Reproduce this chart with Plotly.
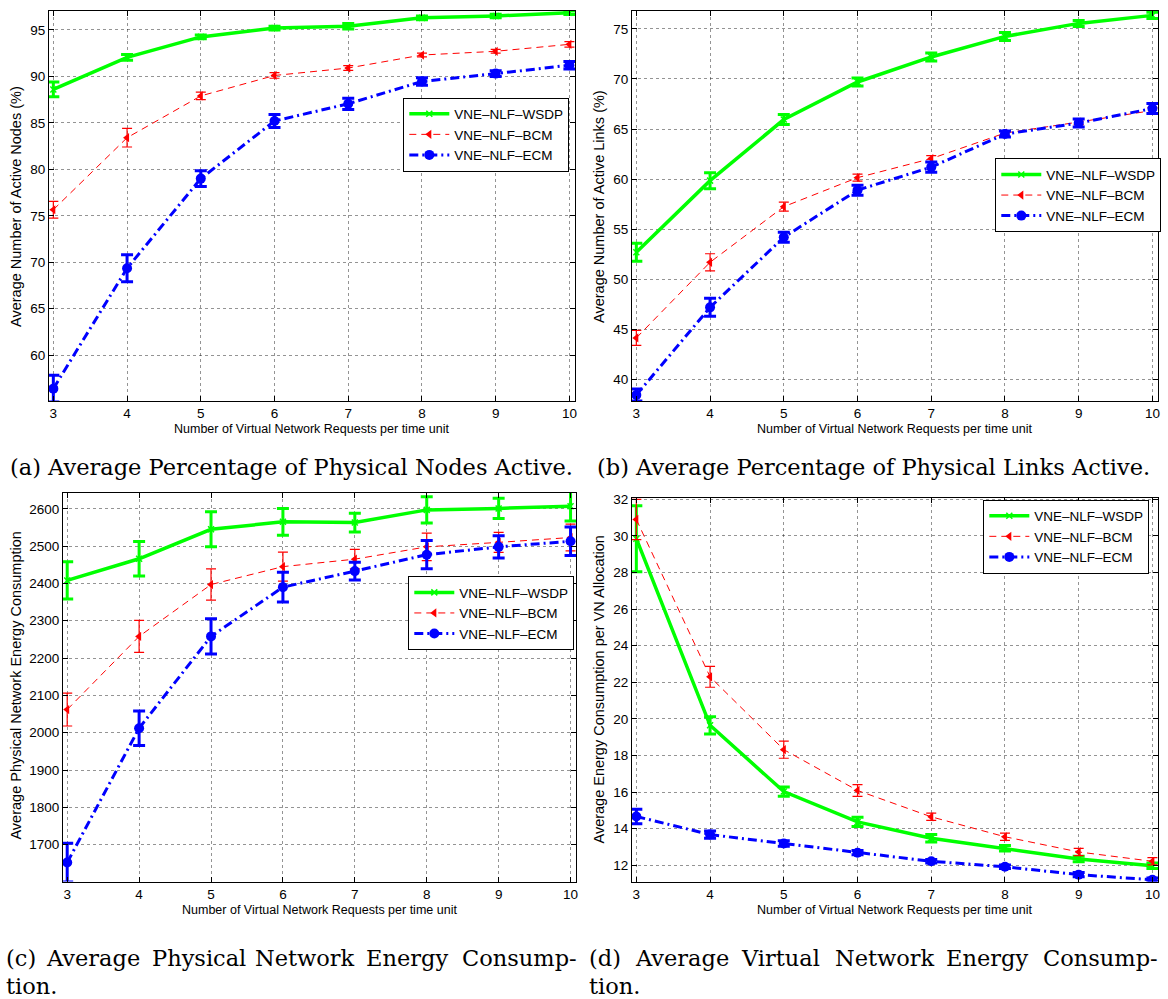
import plotly.graph_objects as go

x_vals = [3, 4, 5, 6, 7, 8, 9, 10]
series_names = ["VNE–NLF–WSDP", "VNE–NLF–BCM", "VNE–NLF–ECM"]

# (a) Average Number of Active Nodes (%)
a_wsdp = [88.6, 92.05, 94.25, 95.2, 95.4, 96.3, 96.5, 96.85]
a_wsdp_err = [0.8, 0.3, 0.2, 0.2, 0.3, 0.2, 0.2, 0.2]
a_bcm = [75.65, 83.4, 87.9, 90.1, 90.9, 92.3, 92.7, 93.45]
a_bcm_err = [0.9, 1.0, 0.4, 0.3, 0.25, 0.2, 0.2, 0.3]
a_ecm = [56.4, 69.35, 79.0, 85.2, 87.05, 89.45, 90.3, 91.2]
a_ecm_err = [1.45, 1.45, 0.85, 0.7, 0.6, 0.4, 0.3, 0.4]

# (b) Average Number of Active Links (%)
b_wsdp = [52.7, 59.85, 65.95, 69.7, 72.2, 74.25, 75.55, 76.35]
b_wsdp_err = [0.9, 0.8, 0.5, 0.4, 0.4, 0.4, 0.3, 0.3]
b_bcm = [44.15, 51.7, 57.25, 60.15, 62.05, 64.6, 65.7, 66.85]
b_bcm_err = [0.75, 0.85, 0.45, 0.35, 0.3, 0.25, 0.25, 0.3]
b_ecm = [38.45, 47.2, 54.2, 58.9, 61.2, 64.5, 65.6, 67.05]
b_ecm_err = [0.6, 0.9, 0.5, 0.5, 0.5, 0.3, 0.4, 0.5]

# (c) Average Physical Network Energy Consumption
c_wsdp = [2408, 2466, 2545, 2565, 2563, 2597, 2601, 2607]
c_wsdp_err = [50, 46, 47, 36, 25, 35, 27, 40]
c_bcm = [2062, 2258, 2397, 2445, 2465, 2498, 2510, 2523]
c_bcm_err = [44, 43, 42, 39, 26, 37, 27, 36]
c_ecm = [1652, 2012, 2258, 2390, 2433, 2477, 2498, 2513]
c_ecm_err = [52, 46, 47, 40, 24, 38, 30, 38]

# (d) Average Energy Consumption per VN Allocation
d_wsdp = [29.85, 19.65, 16.03, 14.37, 13.48, 12.93, 12.34, 11.98]
d_wsdp_err = [1.8, 0.47, 0.25, 0.25, 0.2, 0.15, 0.15, 0.15]
d_bcm = [30.9, 22.3, 18.32, 16.09, 14.65, 13.56, 12.73, 12.22]
d_bcm_err = [1.1, 0.57, 0.47, 0.32, 0.2, 0.2, 0.2, 0.2]
d_ecm = [14.67, 13.68, 13.19, 12.69, 12.22, 11.92, 11.49, 11.21]
d_ecm_err = [0.4, 0.2, 0.15, 0.12, 0.1, 0.1, 0.12, 0.1]

x_title = "Number of Virtual Network Requests per time unit"
y_titles = ["Average Number of Active Nodes (%)",
            "Average Number of Active Links (%)",
            "Average Physical Network Energy Consumption",
            "Average Energy Consumption per VN Allocation"]
captions_ab = ["(a) Average Percentage of Physical Nodes Active.",
               "(b) Average Percentage of Physical Links Active."]
caption_c_words = ["(c)", "Average", "Physical", "Network", "Energy", "Consump-"]
caption_d_words = ["(d)", "Average", "Virtual", "Network", "Energy", "Consump-"]
caption_tail = "tion."

y_ticks = [list(range(60, 96, 5)), list(range(40, 76, 5)),
           list(range(1700, 2601, 100)), list(range(12, 33, 2))]
y_ranges = [[55.07, 97.04], [37.85, 76.79], [1601, 2643.5], [11.11, 32.1]]

W, H = 1168, 999
# plot area pixel boxes (left, right, top, bottom)
boxes = [(49, 576, 6, 398), (633, 1160, 6, 398), (63, 577, 490, 881), (633, 1160, 495, 881)]
legend_pos = [(404, 93), (997, 154), (409, 574), (985, 497)]

GREEN = "rgb(0,255,0)"
RED = "rgb(255,0,0)"
BLUE = "rgb(0,0,255)"
SANS = "Liberation Sans, Arial, sans-serif"
SERIF = "DejaVu Serif, serif"
CAP_SIZE = 22.5

panels = [
    (a_wsdp, a_wsdp_err, a_bcm, a_bcm_err, a_ecm, a_ecm_err),
    (b_wsdp, b_wsdp_err, b_bcm, b_bcm_err, b_ecm, b_ecm_err),
    (c_wsdp, c_wsdp_err, c_bcm, c_bcm_err, c_ecm, c_ecm_err),
    (d_wsdp, d_wsdp_err, d_bcm, d_bcm_err, d_ecm, d_ecm_err),
]

fig = go.Figure()
layout = dict(width=W, height=H, autosize=False,
              margin=dict(l=0, r=0, t=0, b=0),
              paper_bgcolor="white", plot_bgcolor="white",
              font=dict(family=SANS, size=12, color="black"))
annotations = []

for i, (w, we, bc, be, ec, ee) in enumerate(panels):
    n = "" if i == 0 else str(i + 1)
    xa, ya = "x" + n, "y" + n
    leg = "legend" if i == 0 else "legend" + str(i + 1)
    fig.add_trace(go.Scatter(
        x=x_vals, y=w, name=series_names[0], xaxis=xa, yaxis=ya, legend=leg,
        mode="lines+markers",
        line=dict(color=GREEN, width=3.5),
        marker=dict(symbol="x-thin", size=6, line=dict(color=GREEN, width=1.5)),
        error_y=dict(type="data", array=we, color=GREEN, thickness=3, width=6)))
    fig.add_trace(go.Scatter(
        x=x_vals, y=bc, name=series_names[1], xaxis=xa, yaxis=ya, legend=leg,
        mode="lines+markers",
        line=dict(color=RED, width=1, dash="7px,5px"),
        marker=dict(symbol="triangle-left", size=8, color=RED),
        error_y=dict(type="data", array=be, color=RED, thickness=1.2, width=5)))
    fig.add_trace(go.Scatter(
        x=x_vals, y=ec, name=series_names[2], xaxis=xa, yaxis=ya, legend=leg,
        mode="lines+markers",
        line=dict(color=BLUE, width=3, dash="9px,4px,2px,4px"),
        marker=dict(symbol="circle", size=10, color=BLUE),
        error_y=dict(type="data", array=ee, color=BLUE, thickness=3, width=6)))

    l, r, t, b = boxes[i]
    axis_common = dict(showline=True, linecolor="black", linewidth=1, mirror="ticks",
                       ticks="inside", ticklen=5, tickcolor="black", tickwidth=1,
                       showgrid=True, gridcolor="rgba(0,0,0,0.42)", griddash="dot",
                       gridwidth=1, zeroline=False,
                       tickfont=dict(family=SANS, size=13.5, color="black"))
    layout["xaxis" + n] = dict(axis_common, domain=[l / W, r / W], anchor=ya,
                               range=[2.94, 10.076], tickvals=x_vals,
                               ticktext=[str(v) for v in x_vals])
    layout["yaxis" + n] = dict(axis_common, domain=[1 - b / H, 1 - t / H], anchor=xa,
                               range=y_ranges[i], tickvals=y_ticks[i],
                               ticktext=[str(v) for v in y_ticks[i]])
    lx, ly = legend_pos[i]
    layout[leg] = dict(x=lx / W, y=1 - ly / H, xanchor="left", yanchor="top",
                       xref="paper", yref="paper",
                       bgcolor="white", bordercolor="black", borderwidth=1,
                       font=dict(family=SANS, size=13.5, color="black"),
                       itemwidth=40, tracegroupgap=0)
    # axis titles
    xt_y = 426 if i < 2 else 910
    annotations.append(dict(text=x_title, x=(l + r) / 2 / W, y=1 - xt_y / H,
                            xref="paper", yref="paper", showarrow=False,
                            xanchor="center", yanchor="middle",
                            font=dict(family=SANS, size=12.5)))
    yt_x = 16 if i % 2 == 0 else 600
    yt_y = [202, 202, 684, 688][i]
    annotations.append(dict(text=y_titles[i], x=yt_x / W, y=1 - yt_y / H,
                            xref="paper", yref="paper", showarrow=False,
                            textangle=-90, xanchor="center", yanchor="middle",
                            font=dict(family=SANS, size=14.5)))

# captions (a), (b)
for cx, txt in zip([292, 875], captions_ab):
    annotations.append(dict(text=txt, x=cx / W, y=1 - 464 / H, xref="paper", yref="paper",
                            showarrow=False, xanchor="center", yanchor="middle",
                            font=dict(family=SERIF, size=CAP_SIZE)))

# justified captions (c), (d)
def add_justified(words, left, centers, right, y):
    n_words = len(words)
    for k, wd in enumerate(words):
        if k == 0:
            xx, anc = left, "left"
        elif k == n_words - 1:
            xx, anc = right, "right"
        else:
            xx, anc = centers[k - 1], "center"
        annotations.append(dict(text=wd, x=xx / W, y=1 - y / H, xref="paper", yref="paper",
                                showarrow=False, xanchor=anc, yanchor="middle",
                                font=dict(family=SERIF, size=CAP_SIZE)))

add_justified(caption_c_words, 4, [93, 199, 306, 408], 580, 958)
add_justified(caption_d_words, 588, [683, 782, 887, 989], 1162, 958)
for lx in [4, 588]:
    annotations.append(dict(text=caption_tail, x=lx / W, y=1 - 986 / H, xref="paper", yref="paper",
                            showarrow=False, xanchor="left", yanchor="middle",
                            font=dict(family=SERIF, size=CAP_SIZE)))

layout["annotations"] = annotations
layout["showlegend"] = True
fig.update_layout(**layout)
fig.write_html("out.html")
